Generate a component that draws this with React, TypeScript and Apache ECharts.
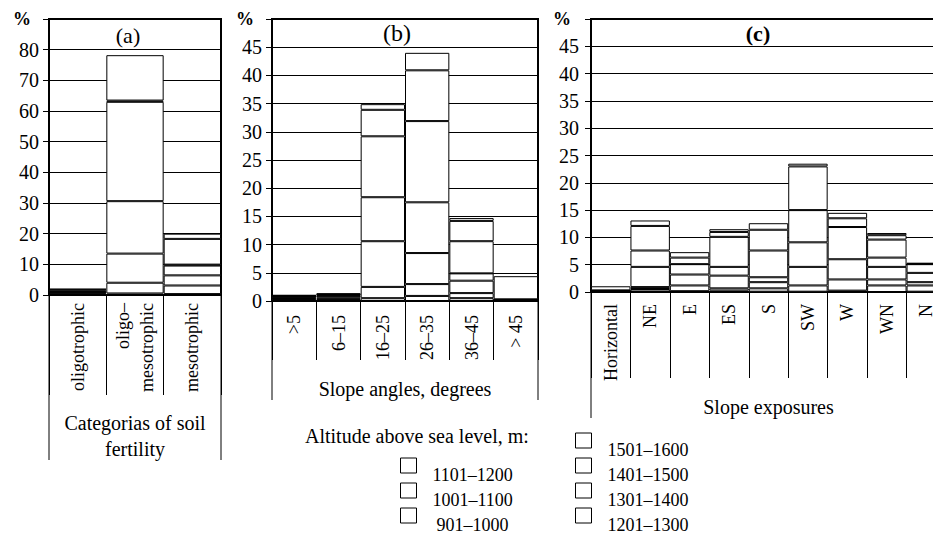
import React, { useEffect, useRef } from 'react';
import * as echarts from 'echarts';

const SERIF = 'Liberation Serif';

// Altitude classes (stack order: bottom -> top)
const altitudeClasses = ['901–1000', '1001–1100', '1101–1200', '1201–1300', '1301–1400', '1401–1500', '1501–1600'];

// (a) soil fertility
const fertilityCategories = ['oligotrophic', 'oligo–\nmesotrophic', 'mesotrophic'];
const fertilityValues: number[][] = [
  [0.2, 0.5, 0.3],
  [0.3, 3.5, 2.8],
  [0.3, 9.5, 3.3],
  [0.2, 17.1, 3.2],
  [0.4, 32.4, 0.3],
  [0.4, 0.4, 8.4],
  [0.2, 14.8, 1.7],
];
const fertilityTicks = { max: 90, interval: 10 };

// (b) slope angles
const slopeCategories = ['>5', '6–15', '16–25', '26–35', '36–45', '> 45'];
const slopeValues: number[][] = [
  [0.1, 0.2, 0.5, 0.9, 0.5, 0.05],
  [0.25, 0.2, 2.0, 2.1, 0.9, 0.05],
  [0.2, 0.2, 8.1, 5.5, 2.2, 0.05],
  [0.2, 0.3, 7.8, 9.0, 1.3, 0.05],
  [0.1, 0.2, 10.8, 14.4, 5.7, 0.05],
  [0.1, 0.1, 4.7, 9.0, 3.6, 0.05],
  [0.1, 0.15, 1.0, 3.1, 0.5, 4.1],
];
const slopeTicks = { max: 50, interval: 5 };

// (c) slope exposures
const exposureCategories = ['Horizontal', 'NE', 'E', 'ES', 'S', 'SW', 'W', 'WN', 'N'];
const exposureValues: number[][] = [
  [0.05, 0.1, 0.05, 0.25, 0.06, 0.06, 0.1, 1.2, 0.06],
  [0.05, 0.45, 0.1, 0.42, 0.61, 1.14, 0.15, 1.1, 1.14],
  [0.05, 0.35, 1.05, 2.33, 1.13, 3.4, 2.05, 2.3, 0.6],
  [0.05, 3.7, 2.0, 1.6, 0.9, 4.5, 3.7, 1.7, 1.7],
  [0.05, 3.0, 1.9, 5.5, 4.9, 5.9, 5.9, 3.3, 1.6],
  [0.05, 4.5, 1.2, 0.9, 3.8, 8.0, 1.6, 0.8, 0.1],
  [0.75, 1.0, 1.0, 0.5, 1.2, 0.5, 1.0, 0.4, 0.1],
];
const exposureTicks = { max: 50, interval: 5 };

const axisNames = ['Categorias of soil\nfertility', 'Slope angles, degrees', 'Slope exposures'];
const panelTitles = ['(a)', '(b)', '(c)'];
const legendTitle = 'Altitude above sea level, m:';
const legendLeftColumn = ['1101–1200', '1001–1100', '901–1000'];
const legendRightColumn = ['1501–1600', '1401–1500', '1301–1400', '1201–1300'];

// layout
const grids = [
  { left: 49, top: 19, width: 172, height: 276 },
  { left: 272, top: 19, width: 266, height: 282 },
  { left: 591, top: 19, width: 355, height: 273 },
];
const sepLen = [100, 59, 86];
const outerLen = [165, 99, 126];
const labelMargin = [8, 14, 12];
const nameGaps = [115, 75, 102];
const yLabelMargin = [10, 10, 12];

export default function App() {
  const ref = useRef<HTMLDivElement>(null);
  useEffect(() => {
    if (!ref.current) return;
    const chart = echarts.init(ref.current, undefined, { renderer: 'svg' });

    const cats = [fertilityCategories, slopeCategories, exposureCategories];
    const vals = [fertilityValues, slopeValues, exposureValues];
    const ticks = [fertilityTicks, slopeTicks, exposureTicks];

    const series: any[] = [];
    vals.forEach((panel, p) => {
      panel.forEach((row, k) => {
        series.push({
          type: 'bar',
          name: altitudeClasses[k],
          xAxisIndex: p,
          yAxisIndex: p,
          stack: 'panel' + p,
          data: row,
          barCategoryGap: '0%',
          barGap: '0%',
          itemStyle: { color: '#fff', borderColor: '#000', borderWidth: 1 },
          emphasis: { disabled: true },
        });
      });
    });

    const graphic: any[] = [];
    grids.forEach((g, p) => {
      const bottom = g.top + g.height;
      graphic.push({
        type: 'line', silent: true,
        shape: { x1: g.left, y1: bottom, x2: g.left, y2: bottom + outerLen[p] },
        style: { stroke: '#000', lineWidth: 1 },
      });
      if (p < 2) {
        graphic.push({
          type: 'line', silent: true,
          shape: { x1: g.left + g.width, y1: bottom, x2: g.left + g.width, y2: bottom + outerLen[p] },
          style: { stroke: '#000', lineWidth: 1 },
        });
      }
    });
    const titlePos = [
      { x: 128, y: 35, size: 22, weight: 'normal' },
      { x: 397, y: 33, size: 24, weight: 'normal' },
      { x: 758, y: 33, size: 22, weight: 'bold' },
    ];
    titlePos.forEach((t, i) => {
      graphic.push({
        type: 'text', silent: true, x: t.x, y: t.y,
        style: {
          text: panelTitles[i], fill: '#000', fontSize: t.size, fontFamily: SERIF, fontWeight: t.weight,
          align: 'center', verticalAlign: 'middle', textAlign: 'center', textVerticalAlign: 'middle',
        },
      });
    });
    graphic.push({
      type: 'text', silent: true, x: 305, y: 436,
      style: {
        text: legendTitle, fill: '#000', fontSize: 20, fontFamily: SERIF,
        align: 'left', verticalAlign: 'middle', textAlign: 'left', textVerticalAlign: 'middle',
      },
    });

    const legendCommon = {
      orient: 'vertical',
      selectedMode: false,
      padding: 0,
      width: 200,
      height: 300,
      itemWidth: 16,
      itemHeight: 15,
      itemGap: -11,
      icon: 'rect',
      itemStyle: { color: '#fff', borderColor: '#000', borderWidth: 1 },
      formatter: (name: string) => '\n' + name,
      textStyle: { color: '#000', fontFamily: SERIF, fontSize: 18, lineHeight: 18, padding: [0, 0, 0, 11] },
    };

    chart.setOption({
      animation: false,
      backgroundColor: '#fff',
      grid: grids.map((g) => ({ ...g, show: true, borderColor: '#000', borderWidth: 2, backgroundColor: 'transparent', containLabel: false, outerBoundsMode: 'none' })),
      xAxis: cats.map((c, p) => ({
        type: 'category',
        gridIndex: p,
        data: c,
        axisLine: { show: true, onZero: false, lineStyle: { color: '#000', width: 2 } },
        axisTick: { show: true, inside: false, length: sepLen[p], alignWithLabel: false, interval: 0, lineStyle: { color: '#000', width: 1 } },
        axisLabel: { interval: 0, rotate: 90, margin: labelMargin[p], color: '#000', fontFamily: SERIF, fontSize: 18, lineHeight: 24 },
        splitLine: { show: false },
        name: axisNames[p],
        nameLocation: 'middle',
        nameGap: nameGaps[p],
        nameMoveOverlap: false,
        nameTextStyle: { color: '#000', fontFamily: SERIF, fontSize: 20, lineHeight: 26 },
      })),
      yAxis: ticks.map((t, p) => ({
        type: 'value',
        gridIndex: p,
        min: 0,
        max: t.max,
        interval: t.interval,
        axisLine: { show: true, lineStyle: { color: '#000', width: 2 } },
        axisTick: { show: true, inside: false, length: 6, lineStyle: { color: '#000', width: 1 } },
        axisLabel: {
          margin: yLabelMargin[p], color: '#000', fontFamily: SERIF, fontSize: 20,
          formatter: (v: number) => (v === t.max ? '{p|%}' : String(v)),
          rich: { p: { fontWeight: 'bold', fontSize: 18, fontFamily: SERIF, color: '#000', padding: [0, 8, 0, 0] } },
        },
        splitLine: { show: true, lineStyle: { color: '#000', width: 1 } },
      })),
      legend: [
        { ...legendCommon, left: 400, top: 447.5, data: legendLeftColumn.map((n) => (n === '901–1000' ? { name: n, textStyle: { padding: [0, 0, 0, 15] } } : n)) },
        { ...legendCommon, left: 575, top: 422.5, data: legendRightColumn },
      ],
      graphic,
      series,
    });
    return () => chart.dispose();
  }, []);
  return <div ref={ref} style={{ position: 'fixed', left: 0, top: 0, width: 933, height: 533 }} />;
}
